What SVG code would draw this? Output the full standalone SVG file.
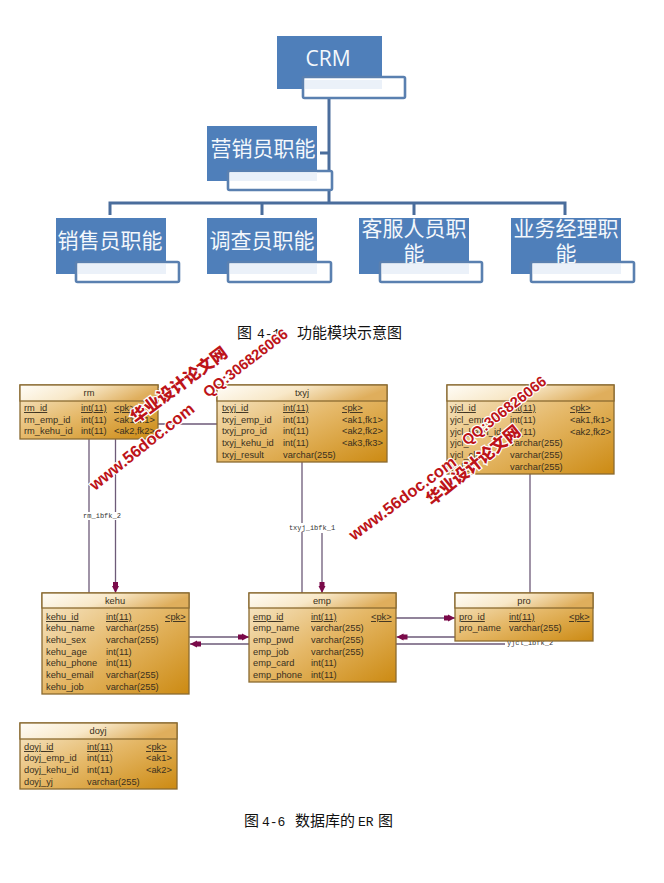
<svg xmlns="http://www.w3.org/2000/svg" width="664" height="883" viewBox="0 0 664 883">
<style>
.bx{fill:#4f7fba}
.sub{fill:#fff;stroke:#5a80b0;stroke-width:2.6}
.lt{fill:#ebf1f9}
.org{fill:none;stroke:#4a6d9c;stroke-width:3}
.cj{font-family:"Liberation Sans","Noto Sans CJK SC",sans-serif;font-size:21px;fill:#f4f8fc;text-anchor:middle}
.cap{font-family:"Liberation Mono","Noto Sans CJK SC",monospace;font-size:15px;fill:#111}
.num{font-size:13px}
.ent{fill:url(#body);stroke:#8a6a30;stroke-width:1.3}
.hd{fill:url(#head);stroke:#8a6a30;stroke-width:1.3}
.t{font-family:"Liberation Sans",Arial,sans-serif;font-size:9.3px;fill:#3a3020}
.h{text-anchor:middle}
.u{text-decoration:underline}
.c{fill:none;stroke:#6d5a78;stroke-width:1.3}
.a{marker-end:url(#arr)}
.lb{font-family:"Liberation Mono",monospace;font-size:7px;fill:#333;text-anchor:middle}
.wm{font-family:"Liberation Sans","Noto Sans CJK SC",sans-serif;font-weight:bold;fill:#bd1419;stroke:#fff;stroke-width:2.4;paint-order:stroke}
.wz{font-family:"Noto Sans CJK SC",sans-serif;font-weight:900;fill:#bd1419;stroke:#fff;stroke-width:2.4;paint-order:stroke;font-size:16.5px}
</style>
<defs>
<linearGradient id="body" x1="0" y1="0" x2="1" y2="1"><stop offset="0" stop-color="#f8ebd0"/><stop offset="0.5" stop-color="#e5b868"/><stop offset="1" stop-color="#cc8a12"/></linearGradient>
<linearGradient id="head" x1="0" y1="0" x2="1" y2="0.25"><stop offset="0" stop-color="#fffdf8"/><stop offset="0.5" stop-color="#f8e8c8"/><stop offset="1" stop-color="#dfae5c"/></linearGradient>
<marker id="arr" markerUnits="userSpaceOnUse" markerWidth="12" markerHeight="8" refX="11" refY="4" orient="auto"><path d="M0 1.5L4 1.5L4 .5L11 4L4 7.5L4 6.5L0 6.5Z" fill="#7a0a4a"/></marker>
</defs>

<g id="org-connectors">
<path class="org" d="M329 98V203M320 153H329M110 215V203H565V215M262 203V215M414 203V215"/>
</g>
<g id="crm"><rect class="bx" x="277" y="36" width="105" height="53"/><rect class="sub" x="303" y="77" width="102" height="21" rx="1.5"/><rect class="lt" x="305" y="80" width="77" height="9"/><text x="328" y="66" text-anchor="middle" font-family="Open Sans,Noto Sans,sans-serif" font-size="21" fill="#f4f8fc">CRM</text></g>
<g id="yingxiao"><rect class="bx" x="207" y="126" width="110" height="55"/><rect class="sub" x="228" y="171" width="104" height="19" rx="1.5"/><rect class="lt" x="230" y="172.300" width="87" height="8.700"/><text class="cj" x="263" y="156">营销员职能</text></g>
<g id="xiaoshou"><rect class="bx" x="56" y="218" width="110" height="56"/><rect class="sub" x="76" y="262" width="103" height="20" rx="1.500"/><rect class="lt" x="78" y="264" width="88" height="10"/><text class="cj" x="110" y="248">销售员职能</text></g>
<g id="diaocha"><rect class="bx" x="207" y="218" width="110" height="56"/><rect class="sub" x="228" y="262" width="103" height="20" rx="1.500"/><rect class="lt" x="230" y="264" width="87" height="10"/><text class="cj" x="262" y="248">调查员职能</text></g>
<g id="kefu"><rect class="bx" x="359" y="218" width="110" height="56"/><rect class="sub" x="380" y="262" width="102" height="20" rx="1.500"/><rect class="lt" x="382" y="264" width="87" height="10"/><text class="cj" x="414" y="236">客服人员职</text><text class="cj" x="414" y="261">能</text></g>
<g id="jingli"><rect class="bx" x="511" y="218" width="110" height="56"/><rect class="sub" x="531" y="262" width="103" height="20" rx="1.500"/><rect class="lt" x="533" y="264" width="88" height="10"/><text class="cj" x="566" y="236">业务经理职</text><text class="cj" x="566" y="261">能</text></g>

<text class="cap" x="237" y="338">图<tspan class="num" x="257">4-1</tspan><tspan x="297">功能模块示意图</tspan></text>

<g id="connectors">
<path class="c" d="M89 439V593M158 424H217M302 462V593M530 474V593M396 644H505"/>
<path class="c a" d="M115.500 439V593"/>
<path class="c a" d="M322 533V593"/>
<path class="c a" d="M189 637H249"/>
<path class="c a" d="M249 644H190"/>
<path class="c a" d="M396 618H455"/>
<path class="c a" d="M455 637H396.500"/>
<rect x="80" y="512" width="44" height="8" fill="#fff"/>
<text class="lb" x="102" y="518">rm_ibfk_2</text>
<rect x="288" y="523" width="49" height="9" fill="#fff"/>
<text class="lb" x="312" y="530">txyj_ibfk_1</text>
<text class="lb" x="530" y="645">yjcl_ibfk_2</text>
</g>

<g id="rm"><rect class="ent" x="20" y="385" width="138" height="54"/><rect class="hd" x="20" y="385" width="138" height="16"/>
<text class="t h" x="89" y="396">rm</text>
<text class="t u" x="24" y="411">rm_id</text><text class="t u" x="81" y="411">int(11)</text><text class="t u" x="114" y="411">&lt;pk&gt;</text>
<text class="t" x="24" y="423">rm_emp_id</text><text class="t" x="81" y="423">int(11)</text><text class="t" x="114" y="423">&lt;ak1,fk1&gt;</text>
<text class="t" x="24" y="434">rm_kehu_id</text><text class="t" x="81" y="434">int(11)</text><text class="t" x="114" y="434">&lt;ak2,fk2&gt;</text></g>

<g id="txyj"><rect class="ent" x="217" y="385" width="170" height="77"/><rect class="hd" x="217" y="385" width="170" height="16"/>
<text class="t h" x="302" y="396">txyj</text>
<text class="t u" x="222" y="411">txyj_id</text><text class="t u" x="283" y="411">int(11)</text><text class="t u" x="342" y="411">&lt;pk&gt;</text>
<text class="t" x="222" y="423">txyj_emp_id</text><text class="t" x="283" y="423">int(11)</text><text class="t" x="342" y="423">&lt;ak1,fk1&gt;</text>
<text class="t" x="222" y="434">txyj_pro_id</text><text class="t" x="283" y="434">int(11)</text><text class="t" x="342" y="434">&lt;ak2,fk2&gt;</text>
<text class="t" x="222" y="446">txyj_kehu_id</text><text class="t" x="283" y="446">int(11)</text><text class="t" x="342" y="446">&lt;ak3,fk3&gt;</text>
<text class="t" x="222" y="458">txyj_result</text><text class="t" x="283" y="458">varchar(255)</text></g>

<g id="yjcl"><rect class="ent" x="447" y="385" width="167" height="89"/><rect class="hd" x="447" y="385" width="167" height="16"/>
<text class="t u" x="450" y="411">yjcl_id</text><text class="t u" x="510" y="411">int(11)</text><text class="t u" x="570" y="411">&lt;pk&gt;</text>
<text class="t" x="450" y="423">yjcl_emp_id</text><text class="t" x="510" y="423">int(11)</text><text class="t" x="570" y="423">&lt;ak1,fk1&gt;</text>
<text class="t" x="450" y="435">yjcl_kehu_id</text><text class="t" x="510" y="435">int(11)</text><text class="t" x="570" y="435">&lt;ak2,fk2&gt;</text>
<text class="t" x="450" y="446">yjcl_</text><text class="t" x="510" y="446">varchar(255)</text>
<text class="t" x="450" y="458">yjcl_clf</text><text class="t" x="510" y="458">varchar(255)</text>
<text class="t" x="450" y="470">yjcl_</text><text class="t" x="510" y="470">varchar(255)</text></g>

<g id="kehu"><rect class="ent" x="42" y="593" width="147" height="101"/><rect class="hd" x="42" y="593" width="147" height="15"/>
<text class="t h" x="115" y="604">kehu</text>
<text class="t u" x="46" y="620">kehu_id</text><text class="t u" x="106" y="620">int(11)</text><text class="t u" x="165" y="620">&lt;pk&gt;</text>
<text class="t" x="46" y="631">kehu_name</text><text class="t" x="106" y="631">varchar(255)</text>
<text class="t" x="46" y="643">kehu_sex</text><text class="t" x="106" y="643">varchar(255)</text>
<text class="t" x="46" y="655">kehu_age</text><text class="t" x="106" y="655">int(11)</text>
<text class="t" x="46" y="666">kehu_phone</text><text class="t" x="106" y="666">int(11)</text>
<text class="t" x="46" y="678">kehu_email</text><text class="t" x="106" y="678">varchar(255)</text>
<text class="t" x="46" y="690">kehu_job</text><text class="t" x="106" y="690">varchar(255)</text></g>

<g id="emp"><rect class="ent" x="249" y="593" width="147" height="89"/><rect class="hd" x="249" y="593" width="147" height="15"/>
<text class="t h" x="322" y="604">emp</text>
<text class="t u" x="253" y="620">emp_id</text><text class="t u" x="311" y="620">int(11)</text><text class="t u" x="371" y="620">&lt;pk&gt;</text>
<text class="t" x="253" y="631">emp_name</text><text class="t" x="311" y="631">varchar(255)</text>
<text class="t" x="253" y="643">emp_pwd</text><text class="t" x="311" y="643">varchar(255)</text>
<text class="t" x="253" y="655">emp_job</text><text class="t" x="311" y="655">varchar(255)</text>
<text class="t" x="253" y="666">emp_card</text><text class="t" x="311" y="666">int(11)</text>
<text class="t" x="253" y="678">emp_phone</text><text class="t" x="311" y="678">int(11)</text></g>

<g id="pro"><rect class="ent" x="455" y="593" width="138" height="48"/><rect class="hd" x="455" y="593" width="138" height="15"/>
<text class="t h" x="524" y="604">pro</text>
<text class="t u" x="459" y="620">pro_id</text><text class="t u" x="509" y="620">int(11)</text><text class="t u" x="569" y="620">&lt;pk&gt;</text>
<text class="t" x="459" y="631">pro_name</text><text class="t" x="509" y="631">varchar(255)</text></g>

<g id="doyj"><rect class="ent" x="20" y="723" width="157" height="66"/><rect class="hd" x="20" y="723" width="157" height="16"/>
<text class="t h" x="98" y="734">doyj</text>
<text class="t u" x="24" y="750">doyj_id</text><text class="t u" x="87" y="750">int(11)</text><text class="t u" x="146" y="750">&lt;pk&gt;</text>
<text class="t" x="24" y="761">doyj_emp_id</text><text class="t" x="87" y="761">int(11)</text><text class="t" x="146" y="761">&lt;ak1&gt;</text>
<text class="t" x="24" y="773">doyj_kehu_id</text><text class="t" x="87" y="773">int(11)</text><text class="t" x="146" y="773">&lt;ak2&gt;</text>
<text class="t" x="24" y="785">doyj_yj</text><text class="t" x="87" y="785">varchar(255)</text></g>

<text class="cap" x="244" y="826">图<tspan class="num" x="262">4-6</tspan><tspan x="295">数据库的</tspan><tspan class="num" x="358">ER</tspan><tspan x="378">图</tspan></text>

<g id="watermark-1">
<text class="wm" font-size="16.500" transform="translate(95 491) rotate(-38.500)">www.56doc.com</text>
<text class="wz" transform="translate(136 424) rotate(-36.500)">华业设计论文网</text>
<text class="wm" font-size="14.800" transform="translate(208 398) rotate(-37.500)">QQ:306826066</text>
</g>
<g id="watermark-2">
<text class="wm" font-size="16.500" transform="translate(354 541) rotate(-36.500)">www.56doc.com</text>
<text class="wz" transform="translate(432 506) rotate(-39)">华业设计论文网</text>
<text class="wm" font-size="14.800" transform="translate(467 446) rotate(-38)">QQ:306826066</text>
</g>
</svg>
